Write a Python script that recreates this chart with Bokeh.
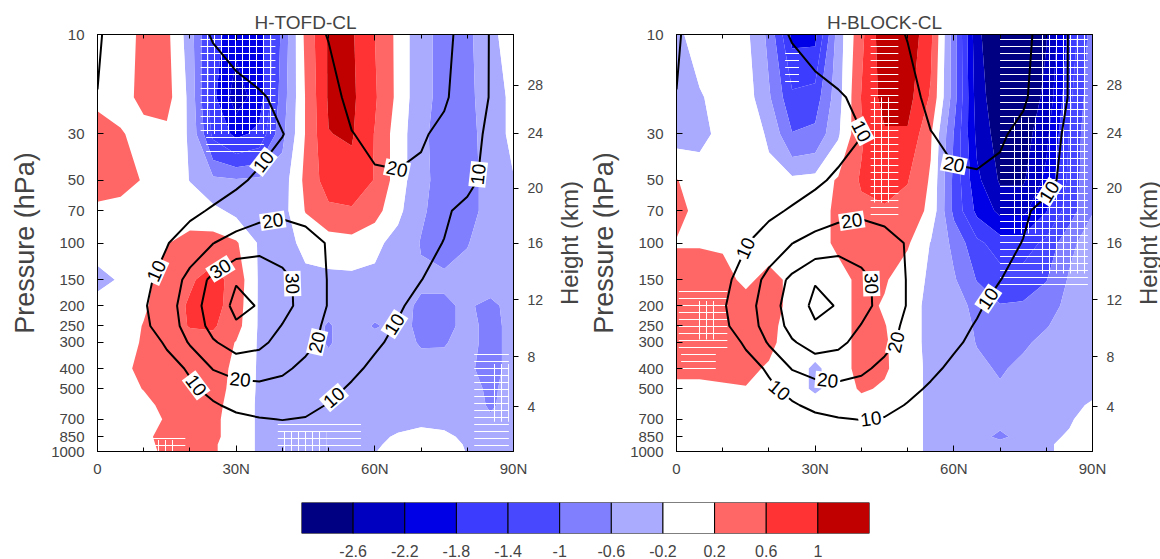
import math
import numpy as np
from bokeh.plotting import figure
from bokeh.plotting.contour import contour_data
from bokeh.models import FixedTicker, LogAxis, LinearAxis, Range1d, PrintfTickFormatter
from bokeh.layouts import column, row
from bokeh.embed import file_html
from bokeh.resources import INLINE
from bokeh.core.properties import value

FONT = "Liberation Sans"

# ---------------- data ----------------
lats = [0, 5, 10, 15, 20, 25, 30, 35, 40, 45, 50, 55, 60, 65, 70, 75, 80, 85, 90]
plevs = [10, 20, 30, 50, 70, 100, 150, 200, 250, 300, 400, 500, 600, 700, 850, 925, 1000]

# shaded anomaly, H-TOFD-CL (rows = plevs, columns = lats)
anom_tofd = [
    [0, 0, 0.3, 0.3, -0.4, -1.6, -2.1, -2.0, -0.9, 0.3, 1.05, 1.05, 0.6, 0.1, -0.5, -0.7, -0.7, -0.3, 0],
    [0.15, 0, 0.35, 0.35, -0.3, -1.7, -2.4, -2.0, -0.8, 0.22, 1.05, 1.08, 0.65, 0.1, -0.5, -0.7, -0.7, -0.4, -0.1],
    [0.3, 0.25, 0, 0.1, -0.25, -1.5, -1.9, -1.7, -0.7, 0.22, 0.99, 1.04, 0.58, 0, -0.5, -0.8, -0.75, -0.4, -0.1],
    [0.3, 0.3, 0.18, 0, -0.21, -0.5, -0.55, -0.5, -0.4, 0.3, 0.8, 0.85, 0.58, 0, -0.5, -0.75, -0.7, -0.5, -0.22],
    [0.15, 0.1, 0, 0, 0, -0.1, -0.3, -0.4, -0.35, 0.22, 0.5, 0.55, 0.35, -0.1, -0.55, -0.75, -0.7, -0.5, -0.3],
    [0, 0, 0, 0.18, 0.35, 0.4, 0.25, -0.25, -0.35, -0.1, 0, 0.05, -0.1, -0.35, -0.62, -0.7, -0.62, -0.4, -0.3],
    [-0.35, -0.15, 0.1, 0.35, 0.55, 0.75, 0.45, -0.25, -0.35, -0.3, -0.3, -0.3, -0.3, -0.35, -0.55, -0.55, -0.45, -0.4, -0.35],
    [0, 0, 0.15, 0.4, 0.65, 0.75, 0.4, -0.25, -0.3, -0.3, -0.45, -0.35, -0.4, -0.5, -0.65, -0.65, -0.55, -0.7, -0.45],
    [0, 0, 0.22, 0.45, 0.62, 0.65, 0.35, -0.25, -0.3, -0.35, -0.65, -0.35, -0.65, -0.45, -0.7, -0.7, -0.5, -0.7, -0.5],
    [0, 0, 0.25, 0.45, 0.45, 0.45, 0.18, -0.25, -0.3, -0.35, -0.65, -0.35, -0.35, -0.4, -0.65, -0.62, -0.5, -0.7, -0.5],
    [0, 0.05, 0.35, 0.45, 0.45, 0.4, 0.1, -0.25, -0.3, -0.35, -0.4, -0.35, -0.35, -0.35, -0.4, -0.5, -0.55, -0.7, -0.5],
    [0, 0, 0.22, 0.4, 0.45, 0.4, 0.05, -0.25, -0.35, -0.35, -0.35, -0.35, -0.35, -0.35, -0.35, -0.4, -0.5, -0.65, -0.5],
    [0, 0, 0.05, 0.35, 0.45, 0.35, 0, -0.25, -0.35, -0.35, -0.35, -0.35, -0.35, -0.35, -0.35, -0.35, -0.4, -0.65, -0.45],
    [0, 0, 0, 0.25, 0.4, 0.3, 0, -0.25, -0.35, -0.35, -0.35, -0.35, -0.35, -0.35, -0.35, -0.35, -0.35, -0.55, -0.4],
    [0, 0, 0.1, 0.35, 0.35, 0.3, 0, -0.25, -0.35, -0.35, -0.35, -0.35, -0.3, -0.15, 0, -0.1, -0.3, -0.35, -0.3],
    [0, 0, 0.1, 0.3, 0.3, 0.25, 0, -0.25, -0.35, -0.35, -0.35, -0.35, -0.25, -0.1, 0.05, 0, -0.25, -0.3, -0.22],
    [0, 0, 0.05, 0.3, 0.3, 0.25, 0, -0.25, -0.3, -0.3, -0.3, -0.3, -0.22, 0, 0.05, 0, -0.22, -0.25, -0.22],
]

# shaded anomaly, H-BLOCK-CL
anom_block = [
    [-0.3, 0, 0, -0.1, -0.7, -1.9, -1.9, -0.4, 0.5, 1.3, 1.3, 0.7, -0.8, -2.5, -3.0, -3.0, -2.62, -1.7, -0.8],
    [-0.35, -0.25, 0, 0, -0.55, -1.3, -1.2, -0.35, 0.62, 1.15, 1.15, 0.55, -0.8, -2.4, -2.9, -2.9, -2.5, -1.5, -0.7],
    [-0.35, -0.3, -0.1, 0, -0.25, -0.98, -0.9, -0.25, 0.55, 0.95, 0.95, 0.25, -1.02, -2.3, -2.8, -2.8, -2.3, -1.38, -0.62],
    [0.22, 0, 0, 0, -0.1, -0.1, -0.05, 0.25, 0.65, 0.75, 0.62, 0.15, -1.1, -2.1, -2.65, -2.65, -2.1, -1.3, -0.62],
    [0.3, 0.1, 0, 0, 0, 0, 0, 0.3, 0.5, 0.55, 0.45, 0.1, -1.1, -1.9, -2.3, -2.3, -1.82, -1.2, -0.62],
    [0.18, 0.18, 0.15, 0, 0, 0, 0, 0.3, 0.4, 0.4, 0.25, -0.22, -0.7, -1.3, -1.6, -1.6, -1.3, -0.7, -0.4],
    [0.35, 0.35, 0.35, 0.1, 0.35, 0.1, 0, 0, 0.35, 0.25, -0.05, -0.25, -0.55, -1.02, -1.2, -1.2, -1.02, -0.55, -0.3],
    [0.35, 0.4, 0.4, 0.4, 0.35, 0.1, 0, 0, 0.35, 0.15, -0.05, -0.3, -0.45, -0.7, -0.98, -0.95, -0.75, -0.5, -0.3],
    [0.35, 0.4, 0.35, 0.35, 0.3, 0.05, 0, 0, 0.35, 0.22, -0.05, -0.3, -0.4, -0.65, -0.75, -0.75, -0.62, -0.45, -0.3],
    [0.35, 0.35, 0.35, 0.35, 0.3, 0, 0, 0, 0.35, 0.25, -0.05, -0.3, -0.35, -0.62, -0.68, -0.66, -0.5, -0.4, -0.3],
    [0.3, 0.3, 0.3, 0.3, 0.15, 0, -0.28, 0, 0.35, 0.25, 0, -0.3, -0.35, -0.5, -0.65, -0.5, -0.4, -0.35, -0.3],
    [0.1, 0.1, 0.15, 0.18, 0.1, 0, -0.28, 0, 0.25, 0.15, 0, -0.3, -0.35, -0.4, -0.55, -0.45, -0.38, -0.35, -0.3],
    [0, 0, 0, 0, 0, 0, 0, 0, 0.05, 0, 0, -0.3, -0.35, -0.35, -0.4, -0.38, -0.35, -0.3, -0.15],
    [0, 0, 0, 0, 0, 0, 0, 0, 0, 0, 0, -0.3, -0.35, -0.35, -0.35, -0.35, -0.35, -0.25, 0],
    [0, 0, 0, 0, 0, 0, 0, 0, 0, 0, 0, -0.3, -0.35, -0.35, -0.75, -0.35, -0.3, -0.15, 0],
    [0, 0, 0, 0, 0, 0, 0, 0, 0, 0, 0, -0.3, -0.35, -0.35, -0.35, -0.35, -0.25, -0.1, 0],
    [0, 0, 0, 0, 0, 0, 0, 0, 0, 0, 0, -0.3, -0.35, -0.35, -0.35, -0.3, -0.25, -0.1, 0],
]

# contoured climatological wind (same in both panels)
u_clim = [
    [11, 6, 4, 5, 7.5, 10.5, 13, 15, 17, 18.5, 20.2, 23, 25, 26, 25, 22, 17, 9.5, 5],
    [9.8, 5, 3, 3, 4, 5.5, 7, 9, 12, 15, 18, 21.5, 23.5, 24, 23, 21, 16, 9.5, 5],
    [6, 4, 2, 2, 2.5, 3.5, 5, 7, 9.8, 13, 16.5, 19.8, 21.5, 22, 21, 18, 14, 8, 4],
    [4, 3, 2, 2.5, 4, 6, 8.5, 11.5, 13.5, 15, 16.5, 18, 19, 19.2, 18, 15.5, 12, 7.5, 4],
    [3, 2.5, 3, 5, 8, 11, 14, 17, 18.5, 18, 17, 16.5, 16, 15, 13.5, 11, 8, 5, 3],
    [2, 3, 6, 9.5, 15, 19.8, 24, 26, 25, 22.5, 19.5, 17, 15, 13.5, 12, 9.8, 7, 4, 2],
    [2, 4, 7.5, 14, 23, 32.5, 39.5, 39, 33, 26, 19.5, 16, 14, 12, 10.1, 8, 6, 4, 2],
    [2, 5, 9, 16, 25, 35, 42, 39.5, 33.5, 26, 19.5, 16, 13.5, 10.8, 8, 6, 4.5, 3, 2],
    [1.5, 4, 8, 15, 24, 33, 39, 37, 29.5, 23, 18.5, 15, 12, 9.5, 7, 5, 4, 3, 2],
    [1, 3, 6, 11, 21, 29, 34, 32, 27, 22, 18, 14, 11, 8.5, 6, 4.5, 3.5, 2.5, 2],
    [1, 2, 4, 7, 11, 20.5, 24, 24, 21.5, 18, 14.5, 11.5, 8.5, 6, 4.5, 3.5, 3, 2, 1.5],
    [0.5, 1.5, 3, 5.5, 8.5, 12.5, 16, 17.5, 17, 15, 12, 9, 6.5, 4.5, 3.5, 3, 2.5, 2, 1.5],
    [0, 1, 2, 3.5, 6, 9, 12, 13.5, 14, 12.5, 9.5, 7, 5, 4, 3, 2.5, 2, 1.5, 1],
    [0, 0.5, 1.5, 2.5, 4, 6, 8, 9.5, 10.2, 9.5, 7.5, 5.5, 4, 3, 2.5, 2, 1.5, 1, 0.5],
    [0, 0, 1, 1.5, 2.5, 3.5, 4.5, 5.5, 6, 5.5, 4.5, 3.5, 2.5, 2, 1.5, 1, 1, 0.5, 0],
    [0, 0, 0.8, 1.2, 2, 2.8, 3.6, 4.4, 4.8, 4.4, 3.6, 2.8, 2, 1.6, 1.2, 0.8, 0.8, 0.4, 0],
    [0, 0, 0.6, 1, 1.5, 2, 2.7, 3.3, 3.6, 3.3, 2.7, 2, 1.5, 1.2, 0.9, 0.6, 0.6, 0.3, 0],
]

fill_levels = [-9, -2.6, -2.2, -1.8, -1.4, -1.0, -0.6, -0.2, 0.2, 0.6, 1.0, 9]
fill_colors = ["#000082", "#0000c0", "#0000e6", "#3c3cff", "#4848ff", "#8080ff",
               "#aaaaff", "#ffffff", "#ff6666", "#ff3333", "#c00000"]
line_levels = [10, 20, 30, 40]

# colorbar
cbar_edges = [-3.0, -2.6, -2.2, -1.8, -1.4, -1.0, -0.6, -0.2, 0.2, 0.6, 1.0, 1.4]
cbar_ticks = [-2.6, -2.2, -1.8, -1.4, -1.0, -0.6, -0.2, 0.2, 0.6, 1.0]
cbar_labels = ["-2.6", "-2.2", "-1.8", "-1.4", "-1", "-0.6", "-0.2", "0.2", "0.6", "1"]

# axes
pressure_ticks = [10, 30, 50, 70, 100, 150, 200, 250, 300, 400, 500, 700, 850, 1000]
height_km = [4, 8, 12, 16, 20, 24, 28]
height_hpa = [609, 351, 187, 100, 54.6, 29.8, 17.5]
lat_ticks = [0, 30, 60, 90]
lat_labels = ["0", "30N", "60N", "90N"]
lat_minor = [10, 20, 40, 50, 70, 80]

# significance hatching: (lat west, lat east, p top, p bottom)
hatch_h_tofd = [(22.3, 38.5, 10, 31), (23.5, 36, 31, 37), (10.5, 19, 860, 1000),
                (39, 57, 730, 1000), (43, 49, 690, 730), (81.5, 89, 340, 950)]
hatch_v_tofd = [(23.5, 38.5, 10, 30), (11, 17, 880, 1000), (40, 49.5, 800, 1000),
                (85.5, 89, 380, 720)]
hatch_h_block = [(23.5, 26.5, 11.5, 17), (42, 48, 10, 75), (70, 89, 10, 160),
                 (0.5, 11, 170, 330), (1, 8.5, 330, 420)]
hatch_v_block = [(42, 47, 20, 64), (78, 89, 10, 140), (72, 78, 25, 90), (4, 9, 190, 290)]

# contour label anchors: (level, lat, pressure)
labels_tofd = [(10, 36.0, 40.9), (20, 64.8, 44.1), (10, 81.4, 46.6), (20, 37.8, 75.2),
               (10, 13.3, 138), (30, 25.9, 126), (30, 40.7, 157), (20, 47.5, 299),
               (20, 30.9, 449), (10, 20.8, 492), (10, 51.1, 549), (10, 64.1, 244)]
labels_block = [(10, 39.6, 29.4), (20, 59.8, 44), (10, 79.6, 55), (20, 37.8, 75.2),
                (10, 16.2, 109), (30, 40.7, 157), (20, 47.5, 299), (20, 32.7, 457),
                (10, 21.6, 529), (10, 42.1, 710), (10, 67, 182)]

FW, FH = 416, 417

cd = contour_data(lats, plevs, np.array(u_clim, dtype=float), line_levels,
                  want_fill=False, want_line=True)
line_xs = cd.line_data.xs
line_ys = cd.line_data.ys


def label_positions(labels):
    xs, ys, txt, ang = [], [], [], []
    kx = FW / 90.0
    ky = FH / 2.0
    for lev, la, pr in labels:
        i = line_levels.index(lev)
        X = np.asarray(line_xs[i], dtype=float)
        Y = np.asarray(line_ys[i], dtype=float)
        sx = X * kx
        sy = np.log10(Y) * ky
        tx = la * kx
        ty = math.log10(pr) * ky
        best = None
        for j in range(len(sx) - 1):
            ax_, ay_, bx_, by_ = sx[j], sy[j], sx[j + 1], sy[j + 1]
            if np.isnan(ax_) or np.isnan(bx_):
                continue
            dx, dy = bx_ - ax_, by_ - ay_
            L2 = dx * dx + dy * dy
            t = 0.0 if L2 == 0 else max(0.0, min(1.0, ((tx - ax_) * dx + (ty - ay_) * dy) / L2))
            px_, py_ = ax_ + t * dx, ay_ + t * dy
            d = (px_ - tx) ** 2 + (py_ - ty) ** 2
            if best is None or d < best[0]:
                best = (d, px_, py_, dx, dy)
        _, px_, py_, dx, dy = best
        a = math.atan2(-dy, dx)
        if a > math.pi / 2:
            a -= math.pi
        if a < -math.pi / 2:
            a += math.pi
        xs.append(px_ / kx)
        ys.append(10 ** (py_ / ky))
        txt.append(str(lev))
        ang.append(a)
    return xs, ys, txt, ang


def panel(title, anom, hatch_h, hatch_v, labels, left_border, right_border):
    p = figure(frame_width=FW, frame_height=FH, x_range=Range1d(0, 90),
               y_range=Range1d(1000, 10), y_axis_type="log",
               output_backend="svg", toolbar_location=None,
               min_border_left=left_border, min_border_right=right_border,
               min_border_top=34, min_border_bottom=30)
    p.title.text = title
    p.title.align = "center"
    p.title.text_font = FONT
    p.title.text_font_size = "19px"
    p.title.text_font_style = "normal"
    p.title.standoff = 3
    p.xgrid.visible = False
    p.ygrid.visible = False
    p.outline_line_color = "black"
    p.background_fill_color = "white"

    p.contour(lats, plevs, np.array(anom, dtype=float), fill_levels,
              fill_color=fill_colors, line_color=None)

    for pattern, boxes in (("-", hatch_h), ("|", hatch_v)):
        p.quad(left=[b[0] for b in boxes], right=[b[1] for b in boxes],
               top=[b[2] for b in boxes], bottom=[b[3] for b in boxes],
               fill_color=None, line_color=None, hatch_pattern=pattern,
               hatch_color="white", hatch_weight=1, hatch_scale=7)

    p.contour(lats, plevs, np.array(u_clim, dtype=float), line_levels,
              line_color="black", line_width=2, fill_color=None)

    lx, ly, lt, la = label_positions(labels)
    p.text(x=lx, y=ly, text=lt, angle=la, text_font=value(FONT),
           text_font_size="19px", text_align="center", text_baseline="middle",
           text_color="black", background_fill_color="white", padding=2)

    # bottom axis
    xa = p.xaxis[0]
    xa.ticker = FixedTicker(ticks=lat_ticks, minor_ticks=lat_minor)
    xa.major_label_overrides = {t: s for t, s in zip(lat_ticks, lat_labels)}
    xa.major_tick_in = 6
    xa.major_tick_out = 0
    xa.minor_tick_in = 4
    xa.minor_tick_out = 0
    xa.major_label_standoff = 8
    xa.major_label_text_font = FONT
    xa.major_label_text_font_size = "15px"
    xa.axis_line_color = "black"

    # top ticks (no labels)
    ta = LinearAxis(ticker=FixedTicker(ticks=lat_ticks, minor_ticks=lat_minor),
                    major_label_text_font_size="2px", major_label_text_color=None,
                    major_label_standoff=0,
                    major_tick_in=6, major_tick_out=0, minor_tick_in=4, minor_tick_out=0)
    p.add_layout(ta, "above")

    # left pressure axis
    ya = p.yaxis[0]
    ya.ticker = FixedTicker(ticks=pressure_ticks, minor_ticks=[])
    ya.formatter = PrintfTickFormatter(format="%d")
    ya.major_tick_in = 6
    ya.major_tick_out = 0
    ya.minor_tick_line_color = None
    ya.major_label_standoff = 13
    ya.major_label_text_font = FONT
    ya.major_label_text_font_size = "15px"
    ya.axis_label = "Pressure (hPa)"
    ya.axis_label_text_font = FONT
    ya.axis_label_text_font_size = "27px"
    ya.axis_label_text_font_style = "normal"
    ya.axis_label_standoff = 8

    # right height axis (ticks + tick labels)
    ra = LogAxis(ticker=FixedTicker(ticks=height_hpa, minor_ticks=[]),
                 major_label_overrides={h: str(k) for h, k in zip(height_hpa, height_km)})
    ra.major_tick_in = 0
    ra.major_tick_out = 5
    ra.minor_tick_line_color = None
    ra.major_label_standoff = 9
    ra.major_label_text_font = FONT
    ra.major_label_text_font_size = "14px"
    p.add_layout(ra, "right")
    return p


def height_title(border):
    # narrow strip that carries the "Height (km)" axis title, reading bottom-to-top
    f = figure(frame_width=1, frame_height=FH, x_range=Range1d(0, 1), y_range=Range1d(0, 1),
               output_backend="svg", toolbar_location=None, x_axis_location=None,
               min_border_left=border, min_border_right=0,
               min_border_top=34, min_border_bottom=30)
    f.outline_line_color = None
    f.xgrid.visible = False
    f.ygrid.visible = False
    ax = f.yaxis[0]
    ax.ticker = FixedTicker(ticks=[], minor_ticks=[])
    ax.axis_line_color = None
    ax.major_tick_line_color = None
    ax.minor_tick_line_color = None
    ax.axis_label = "Height (km)"
    ax.axis_label_text_font = FONT
    ax.axis_label_text_font_size = "24px"
    ax.axis_label_text_font_style = "normal"
    ax.axis_label_standoff = 0
    return f


p1 = panel("H-TOFD-CL", anom_tofd, hatch_h_tofd, hatch_v_tofd, labels_tofd, 97, 32)
h1 = height_title(36)
p2 = panel("H-BLOCK-CL", anom_block, hatch_h_block, hatch_v_block, labels_block, 93, 32)
h2 = height_title(36)

cb = figure(frame_width=568, frame_height=31, x_range=Range1d(cbar_edges[0], cbar_edges[-1]),
            y_range=Range1d(0, 1), output_backend="svg", toolbar_location=None,
            min_border_left=301, min_border_right=10, min_border_top=21, min_border_bottom=22)
cb.quad(left=cbar_edges[:-1], right=cbar_edges[1:], bottom=0, top=1,
        fill_color=fill_colors, line_color="black", line_width=1)
cb.xgrid.visible = False
cb.ygrid.visible = False
cb.yaxis.visible = False
cb.outline_line_color = None
cax = cb.xaxis[0]
cax.ticker = FixedTicker(ticks=cbar_ticks, minor_ticks=[])
cax.major_label_overrides = {t: s for t, s in zip(cbar_ticks, cbar_labels)}
cax.axis_line_color = None
cax.major_tick_line_color = None
cax.minor_tick_line_color = None
cax.major_label_standoff = 5
cax.major_label_text_font = FONT
cax.major_label_text_font_size = "16px"

layout = column(row(p1, h1, p2, h2), cb)
open("out.html", "w").write(file_html(layout, INLINE))
